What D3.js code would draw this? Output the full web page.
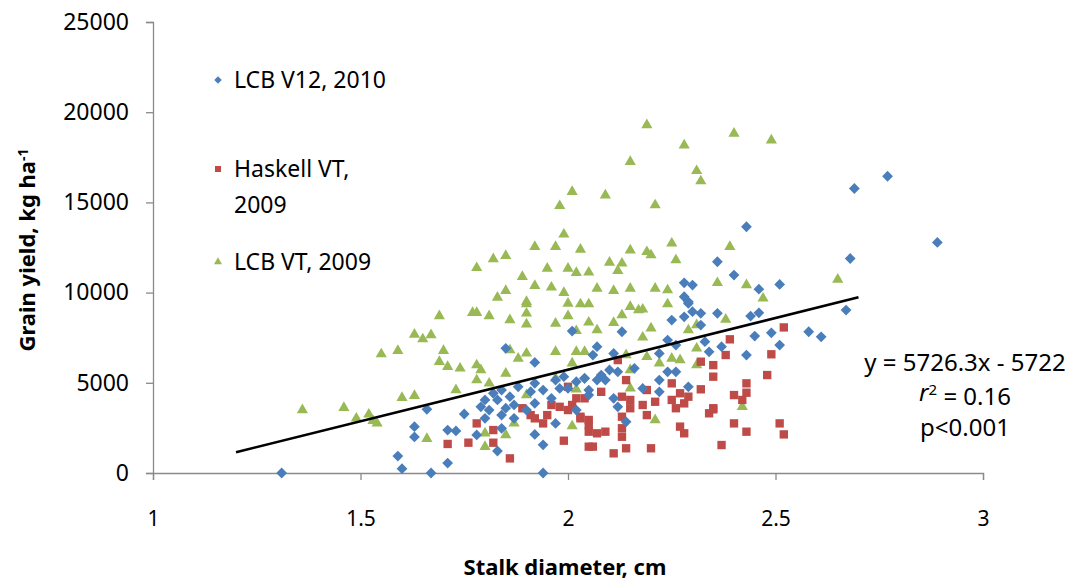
<!DOCTYPE html>
<html>
<head>
<meta charset="utf-8">
<script src="https://cdn.jsdelivr.net/npm/d3@7"></script>
<style>
  body { margin: 0; background: #fff; }
  text { font-family: "Noto Sans", "Open Sans", sans-serif; fill: #000; }
</style>
</head>
<body>
<div id="chart"></div>
<script>
// series values: [stalk diameter (cm), grain yield (kg/ha)]
const lcbV12_2010 = [
  [1.31,0],[1.59,940],[1.60,240],[1.63,2570],[1.63,2000],[1.66,3530],[1.67,0],[1.71,550],
  [1.83,1220],[1.94,1560],[1.94,0],[1.85,6910],[1.92,6130],[2.01,7870],[1.75,3270],[1.71,2380],
  [1.73,2330],[1.92,2140],[1.84,2480],[1.78,2110],[1.80,4050],[1.82,4420],[1.83,4050],[1.84,4600],
  [1.86,4230],[1.87,3770],[1.81,3490],[1.84,3210],[1.85,3590],[1.80,3030],[1.88,4780],[1.91,4510],
  [1.92,4970],[1.94,4600],[1.96,4140],[1.97,5150],[1.99,5340],[1.98,4690],[2.00,4690],[2.02,5060],
  [2.04,5250],[2.05,4600],[1.97,2750],[1.92,3860],[1.90,3490],[1.79,3670],[1.87,3030],[2.02,3490],
  [2.29,9400],[2.30,8940],[2.28,8660],[2.25,8480],[2.36,8850],[2.32,8200],[2.13,7830],[2.07,7000],
  [2.06,6540],[2.11,6630],[2.24,7370],[2.26,7090],[2.22,6630],[2.33,7280],[2.34,6720],[2.37,7000],
  [2.43,6540],[2.04,5250],[2.07,5150],[2.09,5150],[2.10,5710],[2.12,5610],[2.16,5800],[2.22,5150],
  [2.24,5610],[2.26,5610],[2.29,4780],[2.18,4690],[2.22,4500],[2.11,4140],[2.12,3670],[2.14,2840],
  [2.05,4320],[2.08,5430],[2.43,13650],[2.36,11710],[2.40,10970],[2.28,10540],[2.30,10420],[2.28,9770],
  [2.29,9490],[2.77,16450],[2.69,15770],[2.68,11890],[2.46,10190],[2.51,10450],[2.44,8700],[2.46,8880],
  [2.67,9030],[2.45,7590],[2.49,7770],[2.51,7090],[2.58,7830],[2.61,7550],[2.89,12780],[2.32,8850]
];
const haskellVT_2009 = [
  [1.71,1610],[1.76,1680],[1.86,810],[1.99,1790],[1.78,2750],[1.82,2380],[1.82,1680],[1.89,3590],
  [1.91,3210],[1.92,3030],[1.94,2750],[1.95,3210],[1.96,3770],[1.98,3670],[2.00,3490],[2.00,4780],
  [2.02,4140],[2.03,3120],[2.05,2660],[2.05,1460],[2.01,3770],[2.12,6260],[2.14,5150],[2.08,4500],
  [2.13,4230],[2.15,4050],[2.18,3770],[2.15,3590],[2.13,3120],[2.19,3210],[2.21,3950],[2.19,4600],
  [2.25,4970],[2.27,4420],[2.29,4230],[2.25,4050],[2.26,3590],[2.28,3860],[2.32,4640],[2.32,6170],
  [2.35,5980],[2.35,5340],[2.39,7410],[2.38,6540],[2.04,4140],[2.03,3030],[2.05,2940],[2.05,2290],
  [2.07,2200],[2.09,2290],[2.06,1460],[2.11,1090],[2.13,2480],[2.13,2010],[2.14,1370],[2.20,1370],
  [2.27,2570],[2.28,2200],[2.34,3310],[2.35,3590],[2.37,1550],[2.40,2750],[2.40,4320],[2.42,4050],
  [2.43,4970],[2.43,2290],[2.52,8070],[2.49,6580],[2.48,5430],[2.43,4450],[2.51,2750],[2.52,2140],
  [2.35,3530]
];
const lcbVT_2009 = [
  [1.36,3490],[1.46,3620],[1.49,3030],[1.52,3250],[1.53,2900],[1.54,2750],[1.55,6590],[1.59,6780],
  [1.60,4170],[1.63,4280],[1.63,7680],[1.65,7420],[1.67,7650],[1.69,8700],[1.69,6170],[1.66,1900],
  [1.77,8880],[1.78,8880],[1.81,8700],[1.86,8480],[1.90,9360],[1.90,8850],[1.90,8250],[1.70,6780],
  [1.71,5890],[1.74,5800],[1.78,5980],[1.79,5710],[1.78,5150],[1.81,4970],[1.85,5520],[1.86,6810],
  [1.88,6350],[1.90,6630],[1.73,4600],[1.97,6720],[1.97,8290],[2.00,8700],[2.02,7880],[2.00,9400],
  [2.03,9360],[2.02,6720],[2.04,6720],[2.05,8350],[2.01,6080],[1.90,4320],[1.87,2750],[1.80,2200],
  [1.80,1460],[1.85,2110],[2.01,2600],[1.97,5250],[2.02,4640],[2.05,9360],[2.15,9220],[2.17,9030],
  [2.13,8750],[2.18,9070],[2.24,9360],[2.11,8330],[2.07,7920],[2.20,8020],[2.29,7920],[2.31,8200],
  [2.38,8510],[2.18,7520],[2.31,6910],[2.14,6540],[2.19,6440],[2.25,6350],[2.27,6260],[2.22,6080],
  [2.31,5980],[2.15,5710],[2.15,4690],[2.21,2940],[2.42,3670],[2.19,19290],[2.40,18820],[2.28,18170],
  [2.15,17250],[2.31,16750],[2.32,16180],[2.01,15590],[2.09,15400],[1.98,14810],[2.21,14850],[1.99,13230],
  [2.25,12730],[2.39,12540],[1.92,12540],[1.97,12540],[2.03,12390],[2.15,12350],[2.19,12260],[2.20,12080],
  [2.26,11800],[1.78,11370],[1.82,11860],[1.85,12040],[1.95,11340],[2.00,11340],[2.02,11100],[2.05,11120],
  [2.10,11670],[2.13,11620],[2.12,11210],[1.89,10880],[1.92,10380],[1.96,10290],[1.99,9990],[2.07,10230],
  [2.11,10100],[2.15,10230],[2.21,10230],[2.24,10140],[2.36,10540],[2.43,10420],[1.85,10100],[1.83,9730],
  [1.90,9490],[2.49,18450],[2.47,9680],[2.65,10730]
];
const xTicks = [1, 1.5, 2, 2.5, 3];
const yTicks = [0, 5000, 10000, 15000, 20000, 25000];
const fit = { slope: 5726.3, intercept: -5722, x0: 1.2, x1: 2.7 };

const width = 1075, height = 584;
const svg = d3.select("#chart").append("svg")
  .attr("width", width)
  .attr("height", height);

const x = d3.scaleLinear().domain([1, 3]).range([153, 983]);
const y = d3.scaleLinear().domain([0, 25000]).range([473, 22]);

// axes
const xAxis = svg.append("g")
  .attr("transform", `translate(0,${y(0)})`)
  .call(d3.axisBottom(x).tickValues(xTicks).tickSize(7).tickPadding(30).tickFormat(d3.format("")));
const yAxis = svg.append("g")
  .attr("transform", `translate(${x(1)},0)`)
  .call(d3.axisLeft(y).tickValues(yTicks).tickSize(7).tickPadding(17).tickFormat(d => d));
[xAxis, yAxis].forEach(g => {
  g.select(".domain").attr("stroke", "#8a8a8a").attr("stroke-width", 1.3);
  g.selectAll(".tick line").attr("stroke", "#8a8a8a").attr("stroke-width", 1.3);
  g.selectAll(".tick text").attr("fill", "#000")
    .style("font-family", "'Noto Sans', sans-serif");
});
xAxis.selectAll(".tick text").style("font-size", "21px").attr("dy", "0.75em");
yAxis.selectAll(".tick text").style("font-size", "23px");

// points
const blue = "#4a7ebb", red = "#be4b48", green = "#98b954";
const diamond = d3.symbol().type(d3.symbolSquare).size(58);
const square = d3.symbol().type(d3.symbolSquare).size(70);
const triangle = d3.symbol().type(d3.symbolTriangle).size(54);

svg.append("g").selectAll("path")
  .data(lcbVT_2009)
  .join("path")
    .attr("d", triangle)
    .attr("transform", d => `translate(${x(d[0])},${y(d[1])})`)
    .attr("fill", green);

svg.append("g").selectAll("path")
  .data(haskellVT_2009)
  .join("path")
    .attr("d", square)
    .attr("transform", d => `translate(${x(d[0])},${y(d[1])})`)
    .attr("fill", red);

svg.append("g").selectAll("path")
  .data(lcbV12_2010)
  .join("path")
    .attr("d", diamond)
    .attr("transform", d => `translate(${x(d[0])},${y(d[1])}) rotate(45)`)
    .attr("fill", blue);

// regression line
const fitPts = [fit.x0, fit.x1].map(v => [v, fit.slope * v + fit.intercept]);
svg.append("path")
  .datum(fitPts)
  .attr("d", d3.line().x(d => x(d[0])).y(d => y(d[1])))
  .attr("stroke", "#000")
  .attr("stroke-width", 2.6)
  .attr("fill", "none");

// legend
const legend = svg.append("g").style("font-size", "23px");
const legendData = [
  { sym: d3.symbol().type(d3.symbolSquare).size(28)(), rot: 45, color: blue, lines: ["LCB V12, 2010"], y: 80 },
  { sym: d3.symbol().type(d3.symbolSquare).size(36)(), rot: 0, color: red, lines: ["Haskell VT,", "2009"], y: 169 },
  { sym: d3.symbol().type(d3.symbolTriangle).size(28)(), rot: 0, color: green, lines: ["LCB VT, 2009"], y: 262 }
];
legendData.forEach(d => {
  legend.append("path")
    .attr("d", d.sym)
    .attr("transform", `translate(218,${d.y}) rotate(${d.rot})`)
    .attr("fill", d.color);
  d.lines.forEach((t, i) => {
    legend.append("text")
      .attr("x", 234)
      .attr("y", d.y + i * 36)
      .attr("dy", "0.35em")
      .text(t);
  });
});

// equation
const eq = svg.append("g").style("font-size", "24px").attr("text-anchor", "middle");
eq.append("text").attr("x", 965).attr("y", 363).attr("dy", "0.35em").text("y = 5726.3x - 5722");
const r2 = eq.append("text").attr("x", 965).attr("y", 393).attr("dy", "0.35em");
r2.append("tspan").style("font-style", "italic").text("r");
r2.append("tspan").attr("dy", "-0.45em").style("font-size", "15px").text("2");
r2.append("tspan").attr("dy", "0.45em").text(" = 0.16");
eq.append("text").attr("x", 965).attr("y", 428).attr("dy", "0.35em").text("p<0.001");

// axis titles
svg.append("text")
  .attr("x", 565).attr("y", 567)
  .attr("text-anchor", "middle")
  .attr("dy", "0.35em")
  .style("font-size", "22px").style("font-weight", "bold")
  .text("Stalk diameter, cm");

const yt = svg.append("text")
  .attr("transform", "translate(27,250) rotate(-90)")
  .attr("text-anchor", "middle")
  .attr("dy", "0.35em")
  .style("font-size", "22px").style("font-weight", "bold");
yt.append("tspan").text("Grain yield, kg ha");
yt.append("tspan").attr("dy", "-0.5em").style("font-size", "14px").text("-1");
</script>
</body>
</html>
